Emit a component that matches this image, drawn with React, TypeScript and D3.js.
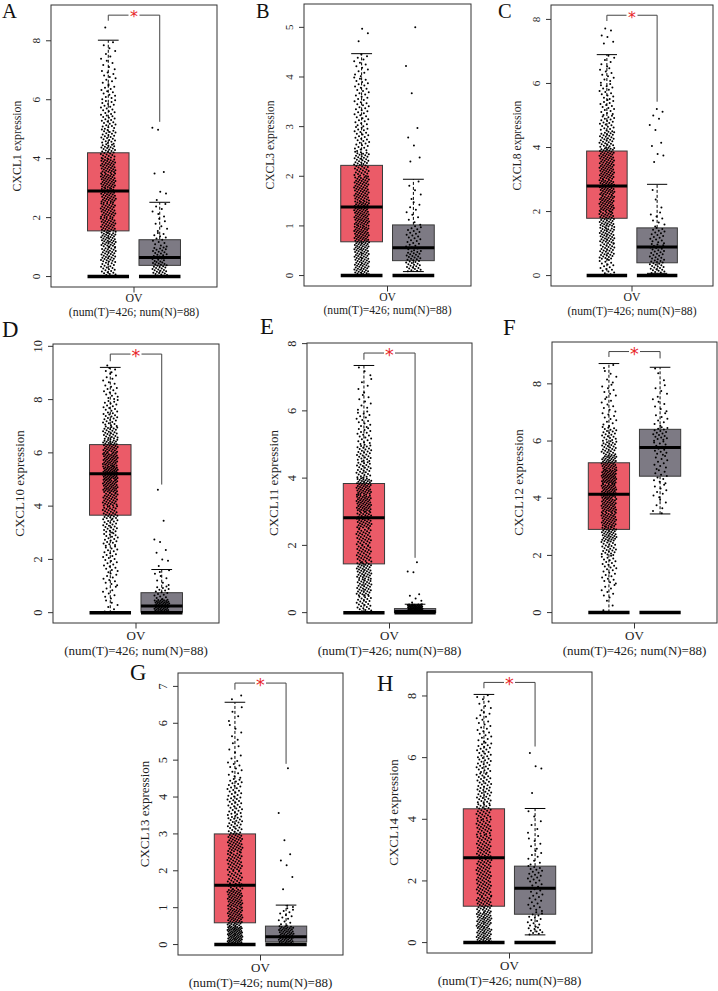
import React from "react";
import * as d3 from "d3";

// ---- data ----
const letters = ["A", "B", "C", "D", "E", "F", "G", "H"];
const genes = ["CXCL1", "CXCL3", "CXCL8", "CXCL10", "CXCL11", "CXCL12", "CXCL13", "CXCL14"];
const groupLabel = "OV";
const countLabel = "(num(T)=426; num(N)=88)";

const yTicks = [
  [0, 2, 4, 6, 8],
  [0, 1, 2, 3, 4, 5],
  [0, 2, 4, 6, 8],
  [0, 2, 4, 6, 8, 10],
  [0, 2, 4, 6, 8],
  [0, 2, 4, 6, 8],
  [0, 1, 2, 3, 4, 5, 6, 7],
  [0, 2, 4, 6, 8],
];

// data extent used for the axis range (R pads 4% each side)
const yExtent = [8.86, 5.26, 8.125, 9.7, 7.71, 9.1, 7.08, 8.44];

// box stats: [lower whisker, q1, median, q3, upper whisker]
const tumorStats = [
  [0, 1.55, 2.9, 4.2, 8.02],
  [0, 0.68, 1.38, 2.22, 4.47],
  [0, 1.79, 2.8, 3.89, 6.9],
  [0, 3.66, 5.22, 6.31, 9.21],
  [0, 1.45, 2.82, 3.84, 7.35],
  [0, 2.91, 4.14, 5.24, 8.71],
  [0, 0.59, 1.61, 3.0, 6.57],
  [0, 1.18, 2.75, 4.34, 8.05],
];
const normalStats = [
  [0, 0.38, 0.65, 1.25, 2.52],
  [0.08, 0.3, 0.56, 1.02, 1.94],
  [0.07, 0.4, 0.89, 1.49, 2.85],
  [0, 0.02, 0.25, 0.75, 1.62],
  [0, 0.0, 0.03, 0.12, 0.25],
  [3.45, 4.77, 5.77, 6.41, 8.58],
  [0, 0.07, 0.21, 0.5, 1.07],
  [0.25, 0.92, 1.76, 2.48, 4.35],
];

// dot counts per 0.5-wide bin starting at 0 (estimated from the dot clouds)
const tumorBins = [
  [25, 35, 40, 38, 38, 40, 42, 40, 30, 24, 20, 16, 13, 10, 7, 5],
  [67, 75, 75, 65, 50, 30, 25, 22, 14],
  [18, 34, 40, 42, 48, 48, 46, 44, 32, 22, 16, 14, 10, 6],
  [6, 8, 10, 12, 14, 18, 22, 30, 35, 45, 55, 45, 38, 28, 20, 15, 12, 8, 4],
  [28, 38, 42, 35, 35, 42, 52, 50, 30, 28, 18, 14, 8, 5, 3],
  [3, 8, 12, 16, 25, 40, 42, 45, 50, 55, 45, 30, 22, 10, 8, 8, 5, 2],
  [90, 55, 55, 35, 40, 45, 30, 25, 22, 12, 6, 5, 4],
  [45, 45, 35, 33, 33, 32, 30, 30, 28, 25, 22, 20, 18, 12, 10, 7, 1],
];
const normalBins = [
  [32, 24, 13, 6, 6],
  [38, 27, 10, 5],
  [25, 23, 18, 8, 2, 1],
  [55, 16, 6, 2],
  [80],
  [0, 0, 0, 0, 0, 0, 1, 5, 8, 10, 10, 14, 18, 8, 6, 5, 2, 1],
  [64, 14, 2],
  [10, 14, 12, 12, 16, 8, 6, 4, 2],
];

// single points beyond the whiskers
const tumorOutliers = [
  [8.45],
  [4.72, 4.88, 4.97],
  [7.25, 7.3, 7.45, 7.5, 7.65, 7.72],
  [9.28],
  [],
  [],
  [6.65, 6.75],
  [],
];
const normalOutliers = [
  [2.6, 2.82, 2.88, 3.5, 3.55, 4.98, 5.05],
  [2.3, 2.38, 2.62, 2.78, 2.97, 3.67, 4.22, 5.0],
  [3.55, 3.75, 3.8, 4.05, 4.15, 4.55, 4.7, 4.9, 5.0, 5.12, 5.2],
  [1.75, 1.95, 2.0, 2.25, 2.35, 2.65, 2.75, 3.45, 4.62],
  [0.3, 0.35, 0.42, 0.5, 0.55, 1.2, 1.22, 1.5],
  [],
  [1.5, 1.83, 2.15, 2.28, 2.45, 2.83, 3.57, 4.78],
  [4.85, 5.65, 5.72, 6.15],
];

// significance bracket: [top, left end, right end] or null
const brackets: (number[] | null)[] = [
  [8.87, 8.68, 5.25],
  null,
  [8.13, 7.95, 5.43],
  [9.71, 9.44, 4.81],
  [7.72, 7.52, 1.63],
  [9.13, 8.94, 8.89],
  [7.09, 6.91, 4.9],
  [8.44, 8.25, 6.36],
];

// ---- layout (plot frames in page pixels) ----
const frames = [
  { x0: 51, x1: 217, y0: 5, y1: 287, fs: 11.8, lx: 2, ly: 18 },
  { x0: 304, x1: 471, y0: 4, y1: 286, fs: 11.6, lx: 256, ly: 18 },
  { x0: 551, x1: 713, y0: 5, y1: 286, fs: 11.7, lx: 498, ly: 18 },
  { x0: 53, x1: 219, y0: 344, y1: 623, fs: 13, lx: 2, ly: 337 },
  { x0: 307, x1: 472, y0: 343, y1: 623, fs: 13, lx: 260, ly: 334 },
  { x0: 552, x1: 717, y0: 342, y1: 623, fs: 13, lx: 503, ly: 335 },
  { x0: 178, x1: 343, y0: 673, y1: 955, fs: 13, lx: 130, ly: 680 },
  { x0: 427, x1: 592, y0: 672, y1: 953, fs: 13, lx: 377, ly: 691 },
];

const RED = "#EB5B68";
const GREY = "#7D7A84";
const FONT = "'Liberation Serif', 'Times New Roman', serif";
const BIN = 0.5;

function dotValues(bins: number[], lo: number, hi: number) {
  const out: { v: number; j: number }[] = [];
  bins.forEach((n, i) => {
    const s = Math.max(i * BIN, lo);
    const e = Math.min((i + 1) * BIN, hi);
    if (e <= s) return;
    for (let k = 0; k < n; k++) {
      const v = s + ((e - s) * (k + 0.5)) / n;
      const j = ((k * 0.6180339 + i * 0.4142 + 0.13) % 1) * 2 - 1;
      out.push({ v, j });
    }
  });
  return out;
}

function Group({ stats, bins, outliers, fill, cx, half, y }: any) {
  const [lo, q1, med, q3, hi] = stats;
  const dots = dotValues(bins, lo, hi);
  outliers.forEach((v: number, i: number) =>
    dots.push({ v, j: ((i * 0.6180339 + 0.3) % 1) * 2 - 1 })
  );
  const cap = half / 2;
  return (
    <g>
      <line x1={cx} x2={cx} y1={y(q3)} y2={y(hi)} stroke="#000" strokeDasharray="3,2" />
      <line x1={cx} x2={cx} y1={y(q1)} y2={y(lo)} stroke="#000" strokeDasharray="3,2" />
      <line x1={cx - cap} x2={cx + cap} y1={y(hi)} y2={y(hi)} stroke="#000" />
      <line x1={cx - cap} x2={cx + cap} y1={y(lo)} y2={y(lo)} stroke="#000" />
      <rect
        x={cx - half}
        width={half * 2}
        y={y(q3)}
        height={Math.max(y(q1) - y(q3), 0.5)}
        fill={fill}
        stroke="#3a3a3a"
        strokeWidth={1}
      />
      <line x1={cx - half} x2={cx + half} y1={y(med)} y2={y(med)} stroke="#000" strokeWidth={3} />
      <line x1={cx - half} x2={cx + half} y1={y(0)} y2={y(0)} stroke="#000" strokeWidth={3.5} />
      {dots.map((d, i) => (
        <circle key={i} cx={cx + d.j * 7.5} cy={y(d.v)} r={1} fill="#000" />
      ))}
    </g>
  );
}

function Panel({ idx }: { idx: number }) {
  const f = frames[idx];
  const M = yExtent[idx];
  const y = d3.scaleLinear().domain([-0.04 * M, 1.04 * M]).range([f.y1, f.y0]);
  const w = f.x1 - f.x0;
  const x = d3.scaleLinear().domain([0, 1]).range([f.x0, f.x1]);
  const cT = x(0.345);
  const cN = x(0.655);
  const mid = x(0.5);
  const half = w * 0.125;
  const fs = f.fs;
  const br = brackets[idx];
  const midY = (f.y0 + f.y1) / 2;
  return (
    <g fontFamily={FONT}>
      <text x={f.lx} y={f.ly} fontSize={fs * 1.75} fill="#111">
        {letters[idx]}
      </text>
      <Group stats={tumorStats[idx]} bins={tumorBins[idx]} outliers={tumorOutliers[idx]} fill={RED} cx={cT} half={half} y={y} />
      <Group stats={normalStats[idx]} bins={normalBins[idx]} outliers={normalOutliers[idx]} fill={GREY} cx={cN} half={half} y={y} />
      {br && (
        <g stroke="#444" fill="none">
          <path d={`M${cT},${y(br[1])}V${y(br[0])}H${mid - 5.5}`} />
          <path d={`M${mid + 5.5},${y(br[0])}H${cN}V${y(br[2])}`} />
        </g>
      )}
      {br && (
        <text x={mid} y={y(br[0]) + fs * 0.62} textAnchor="middle" fontSize={fs * 1.35} fill="#E8262B" fontFamily="'DejaVu Sans', sans-serif">
          *
        </text>
      )}
      <rect x={f.x0} y={f.y0} width={w} height={f.y1 - f.y0} fill="none" stroke="#333" />
      {yTicks[idx].map((t) => (
        <g key={t}>
          <line x1={f.x0 - 5} x2={f.x0} y1={y(t)} y2={y(t)} stroke="#333" />
          <text
            transform={`translate(${f.x0 - 15},${y(t)}) rotate(-90)`}
            textAnchor="middle"
            dominantBaseline="central"
            fontSize={fs * 0.95}
            fill="#222"
          >
            {t}
          </text>
        </g>
      ))}
      <text
        transform={`translate(${f.x0 - 34},${midY}) rotate(-90)`}
        textAnchor="middle"
        dominantBaseline="central"
        fontSize={fs}
        fill="#222"
      >
        {genes[idx] + " expression"}
      </text>
      <line x1={mid} x2={mid} y1={f.y1} y2={f.y1 + 5.5} stroke="#333" />
      <text x={mid} y={f.y1 + fs * 1.3} textAnchor="middle" fontSize={fs} fill="#222">
        {groupLabel}
      </text>
      <text x={mid} y={f.y1 + fs * 2.45} textAnchor="middle" fontSize={fs} fill="#222">
        {countLabel}
      </text>
    </g>
  );
}

export default function App() {
  return (
    <svg
      width={718}
      height={991}
      style={{ position: "absolute", left: 0, top: 0, background: "#fff" }}
    >
      <rect width={718} height={991} fill="#fff" />
      {letters.map((_, i) => (
        <Panel key={i} idx={i} />
      ))}
    </svg>
  );
}
